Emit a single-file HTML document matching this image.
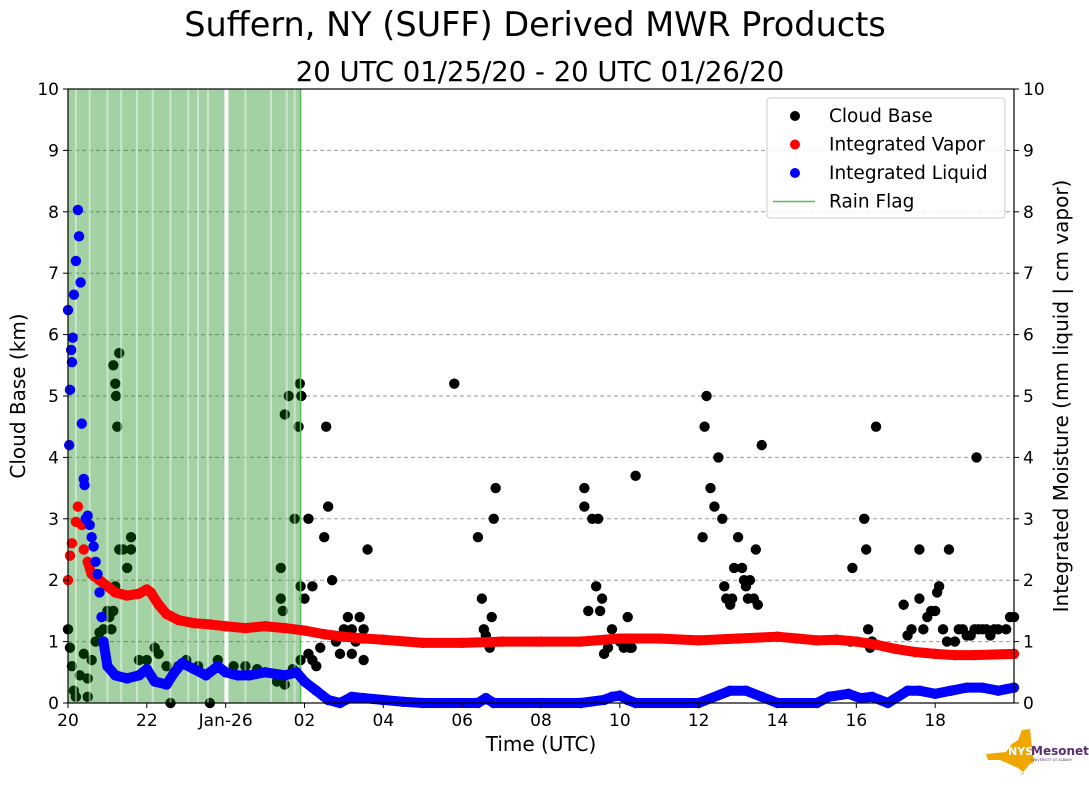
<!DOCTYPE html>
<html><head><meta charset="utf-8"><style>
body{margin:0;background:#fff;width:1089px;height:804px;overflow:hidden;font-family:"Liberation Sans","DejaVu Sans",sans-serif}
svg text{font-family:"DejaVu Sans","Liberation Sans",sans-serif}
</style></head><body>
<svg id="c" width="1089" height="804">
<text x="535" y="36" font-size="33.5" text-anchor="middle">Suffern, NY (SUFF) Derived MWR Products</text>
<text x="540" y="81" font-size="27.5" text-anchor="middle">20 UTC 01/25/20 - 20 UTC 01/26/20</text>
<g id="plot"></g>
</svg>
<script>
const xTickHours=[0,2,4,6,8,10,12,14,16,18,20,22];
const xTickLabels=["20","22","Jan-26","02","04","06","08","10","12","14","16","18"];
const yTicks=[0,1,2,3,4,5,6,7,8,9,10];
const rainStart=0, rainEnd=5.9;
const rainGaps=[0.2,0.55,1.0,1.35,1.75,2.15,2.6,3.05,3.3,3.55,4.0,4.5,5.15,5.55,5.75];
const vaporT=[0,0.05,0.1,0.2,0.25,0.35,0.4,0.5,0.6,0.8,1.0,1.2,1.5,1.8,2.0,2.1,2.3,2.5,2.8,3.2,3.6,4.0,4.5,5.0,5.5,6.0,6.5,7.0,7.5,8,9,10,11,12,13,14,15,16,17,18,18.5,19,19.5,20,20.5,21,21.5,22,22.5,23,24];
const vaporV=[2.0,2.4,2.6,2.95,3.2,2.9,2.5,2.3,2.1,2.0,1.9,1.8,1.75,1.78,1.85,1.8,1.6,1.45,1.35,1.3,1.28,1.25,1.22,1.25,1.22,1.18,1.12,1.08,1.05,1.03,0.98,0.98,1.0,1.0,1.0,1.05,1.05,1.02,1.05,1.08,1.05,1.02,1.03,1.0,0.95,0.88,0.83,0.8,0.78,0.78,0.8];
const liqT=[0,0.03,0.05,0.08,0.1,0.12,0.15,0.2,0.25,0.28,0.32,0.35,0.4,0.42,0.45,0.5,0.55,0.6,0.65,0.7,0.75,0.8,0.85,0.9,1.0,1.2,1.5,1.8,2.0,2.2,2.5,2.7,2.9,3.2,3.5,3.8,4.0,4.3,4.6,5.0,5.5,5.8,6.0,6.3,6.6,6.9,7.2,7.5,8,8.5,9,10.4,10.6,10.8,12,13,13.6,13.8,14.0,14.2,14.4,16,16.8,17.2,17.6,18,19,19.3,19.8,20.1,20.4,20.8,21.3,21.6,22,22.4,22.8,23.2,23.6,24];
const liqV=[6.4,4.2,5.1,5.75,5.55,5.95,6.65,7.2,8.03,7.6,6.85,4.55,3.65,3.55,3.0,3.05,2.9,2.7,2.55,2.3,2.1,1.8,1.4,1.0,0.6,0.45,0.4,0.45,0.55,0.35,0.3,0.5,0.65,0.55,0.45,0.6,0.5,0.45,0.45,0.5,0.45,0.5,0.35,0.2,0.05,0.0,0.1,0.08,0.05,0.02,0.0,0.0,0.08,0.0,0.0,0.0,0.05,0.1,0.12,0.05,0.0,0.0,0.2,0.2,0.1,0.0,0.0,0.1,0.15,0.08,0.1,0.0,0.2,0.2,0.15,0.2,0.25,0.25,0.2,0.25];
const cloudT=[0,0.05,0.1,0.15,0.2,0.3,0.4,0.5,0.5,0.6,0.7,0.8,0.9,1.0,1.05,1.1,1.15,1.2,1.15,1.2,1.22,1.25,1.3,1.3,1.4,1.5,1.6,1.6,1.8,2.0,2.2,2.3,2.5,2.6,2.8,3.0,3.3,3.6,3.8,4.2,4.5,4.8,5.0,5.3,5.5,5.7,5.9,5.4,5.45,5.4,5.5,5.6,5.75,5.85,5.88,5.9,5.92,6.0,6.2,6.1,6.1,6.2,6.3,6.4,6.5,6.55,6.6,6.7,6.8,6.9,7.0,7.1,7.2,7.4,7.5,7.5,7.6,7.2,7.3,9.8,10.4,10.5,10.55,10.6,10.7,10.75,10.8,10.85,13.1,13.1,13.2,13.3,13.4,13.45,13.5,13.55,13.6,13.7,13.8,14.0,14.1,14.2,14.25,14.3,14.4,16.1,16.15,16.2,16.3,16.4,16.5,16.6,16.65,16.7,16.8,16.85,16.9,17.0,17.1,17.15,17.2,17.25,17.3,17.4,17.45,17.5,17.6,19.85,19.9,20.2,20.25,20.3,20.35,20.4,20.5,21.2,21.3,21.4,21.6,21.6,21.7,21.8,21.9,22.0,22.05,22.1,22.2,22.3,22.35,22.5,22.6,22.7,22.8,22.9,23.0,23.05,23.1,23.2,23.3,23.4,23.5,23.6,23.8,23.9,24.0];
const cloudV=[1.2,0.9,0.6,0.2,0.1,0.45,0.8,0.4,0.1,0.7,1.0,1.15,1.2,1.5,1.4,1.2,1.5,1.9,5.5,5.2,5.0,4.5,5.7,2.5,2.5,2.2,2.5,2.7,0.7,0.7,0.9,0.8,0.6,0.0,0.6,0.7,0.6,0.0,0.7,0.6,0.6,0.55,0.5,0.35,0.3,0.55,0.7,1.7,1.5,2.2,4.7,5.0,3.0,4.5,5.2,1.9,5.0,1.7,1.9,3.0,0.8,0.7,0.6,0.9,2.7,4.5,3.2,2.0,1.0,0.8,1.2,1.4,1.2,1.4,1.2,0.7,2.5,0.8,1.0,5.2,2.7,1.7,1.2,1.1,0.9,1.4,3.0,3.5,3.5,3.2,1.5,3.0,1.9,3.0,1.5,1.7,0.8,0.9,1.2,1.0,0.9,1.4,0.9,0.9,3.7,2.7,4.5,5.0,3.5,3.2,4.0,3.0,1.9,1.7,1.6,1.7,2.2,2.7,2.2,2.0,1.9,1.7,2.0,1.7,2.5,1.6,4.2,1.0,2.2,3.0,2.5,1.2,0.9,1.0,4.5,1.6,1.1,1.2,2.5,1.7,1.2,1.4,1.5,1.5,1.8,1.9,1.2,1.0,2.5,1.0,1.2,1.2,1.1,1.1,1.2,4.0,1.2,1.2,1.2,1.1,1.2,1.2,1.2,1.4,1.4];

const X0=68,X1=1014,Y0=703,Y1=89;
const xs=h=>X0+h*(X1-X0)/24;
const ys=v=>Y0-v*(Y0-Y1)/10;
const NS="http://www.w3.org/2000/svg";
const g=document.getElementById('plot');
function mk(t,a,p){const e=document.createElementNS(NS,t);for(const k in a)e.setAttribute(k,a[k]);(p||g).appendChild(e);return e;}

yTicks.forEach(v=>{
 if(v>0&&v<10){const l=mk('line',{x1:X0,x2:X1,y1:ys(v),y2:ys(v),stroke:'#999','stroke-dasharray':'4,3','stroke-width':1});
 
 }
});
cloudT.forEach((t,i)=>{const c=mk('circle',{cx:xs(t),cy:ys(cloudV[i]),r:5.2,fill:'#000'});
 
 });
const rr=mk('rect',{x:xs(rainStart),y:Y1,width:xs(rainEnd)-xs(rainStart),height:Y0-Y1,fill:'rgb(0,128,0)','fill-opacity':0.36});


rainGaps.forEach(t=>{const l=mk('line',{x1:xs(t),x2:xs(t),y1:Y1,y2:Y0,stroke:'#fff','stroke-opacity':0.45,'stroke-width':2});
 
 });
const rg=mk('line',{x1:xs(4.02),x2:xs(4.02),y1:Y1,y2:Y0,stroke:'#fff','stroke-width':4});


const re=mk('line',{x1:xs(rainEnd),x2:xs(rainEnd),y1:Y1,y2:Y0,stroke:'#5cb85c','stroke-width':1.5});


function series(T,V,col,name,lineFrom){
 const idx=T.map((t,i)=>i).filter(i=>T[i]>=lineFrom);
 const pts=idx.map(i=>xs(T[i])+','+ys(V[i])).join(' ');
 const pl=mk('polyline',{points:pts,fill:'none',stroke:col,'stroke-width':10,'stroke-linejoin':'round','stroke-linecap':'round'});
 
 
 T.forEach((t,i)=>{const c=mk('circle',{cx:xs(t),cy:ys(V[i]),r:5.2,fill:col});
  
  });
}
series(vaporT,vaporV,'#ff0000','integrated-vapor',0.5);
series(liqT,liqV,'#0000ff','integrated-liquid',0.9);
const fr=mk('rect',{x:X0,y:Y1,width:X1-X0,height:Y0-Y1,fill:'none',stroke:'#000','stroke-width':1.2});


yTicks.forEach(v=>{
 const y=ys(v);
 mk('line',{x1:X0-5,x2:X0,y1:y,y2:y,stroke:'#000'});
 mk('line',{x1:X1,x2:X1+5,y1:y,y2:y,stroke:'#000'});
 const a=mk('text',{x:X0-9,y:y+6,'font-size':17,'text-anchor':'end'});a.textContent=v;
 
 
 const b=mk('text',{x:X1+9,y:y+6,'font-size':17});b.textContent=v;
 
 
});
xTickHours.forEach((h,i)=>{
 const x=xs(h);
 mk('line',{x1:x,x2:x,y1:Y0,y2:Y0+5,stroke:'#000'});
 const t=mk('text',{x:x,y:Y0+23,'font-size':17,'text-anchor':'middle'});t.textContent=xTickLabels[i];
 
 
});
let t=mk('text',{x:541,y:751,'font-size':20,'text-anchor':'middle'});t.textContent='Time (UTC)';


t=mk('text',{x:0,y:0,'font-size':20,'text-anchor':'middle',transform:'translate(25,396) rotate(-90)'});t.textContent='Cloud Base (km)';


t=mk('text',{x:0,y:0,'font-size':20,'text-anchor':'middle',transform:'translate(1068,396) rotate(-90)'});t.textContent='Integrated Moisture (mm liquid | cm vapor)';


const lg=mk('g',{});


mk('rect',{x:767,y:98,width:238,height:120,rx:3,fill:'#fff','fill-opacity':0.85,stroke:'#ccc'},lg);
const items=[['Cloud Base','#000','dot'],['Integrated Vapor','#ff0000','dot'],['Integrated Liquid','#0000ff','dot'],['Rain Flag','#5cb85c','line']];
items.forEach((it,i)=>{
 const y=116+i*28.5;
 if(it[2]=='dot')mk('circle',{cx:795,cy:y,r:5,fill:it[1]},lg);
 else mk('line',{x1:773,x2:815,y1:y,y2:y,stroke:it[1],'stroke-width':1.5},lg);
 const tx=mk('text',{x:829,y:y+6,'font-size':18.5},lg);tx.textContent=it[0];
 
 
});
const lo=mk('g',{});


mk('path',{d:'M986 754 L1006 752 L1012 744 L1018 740 L1022 730 L1030 729 L1032 748 L1034 762 L1030 764 L1024 771 L1020 776 L1024 773 L1018 768 L1000 760 L988 760 Z',fill:'#f0a800'},lo);
let lt=mk('text',{x:1008,y:755,'font-size':11,'font-weight':'bold',fill:'#fff'},lo);lt.textContent='NYS';
lt=mk('text',{x:1031,y:755,'font-size':12,'font-weight':'bold',fill:'#5a2d6e'},lo);lt.textContent='Mesonet';
lt=mk('text',{x:1031,y:761,'font-size':3.5,fill:'#5a2d6e'},lo);lt.textContent='UNIVERSITY AT ALBANY';
</script>
</body></html>
